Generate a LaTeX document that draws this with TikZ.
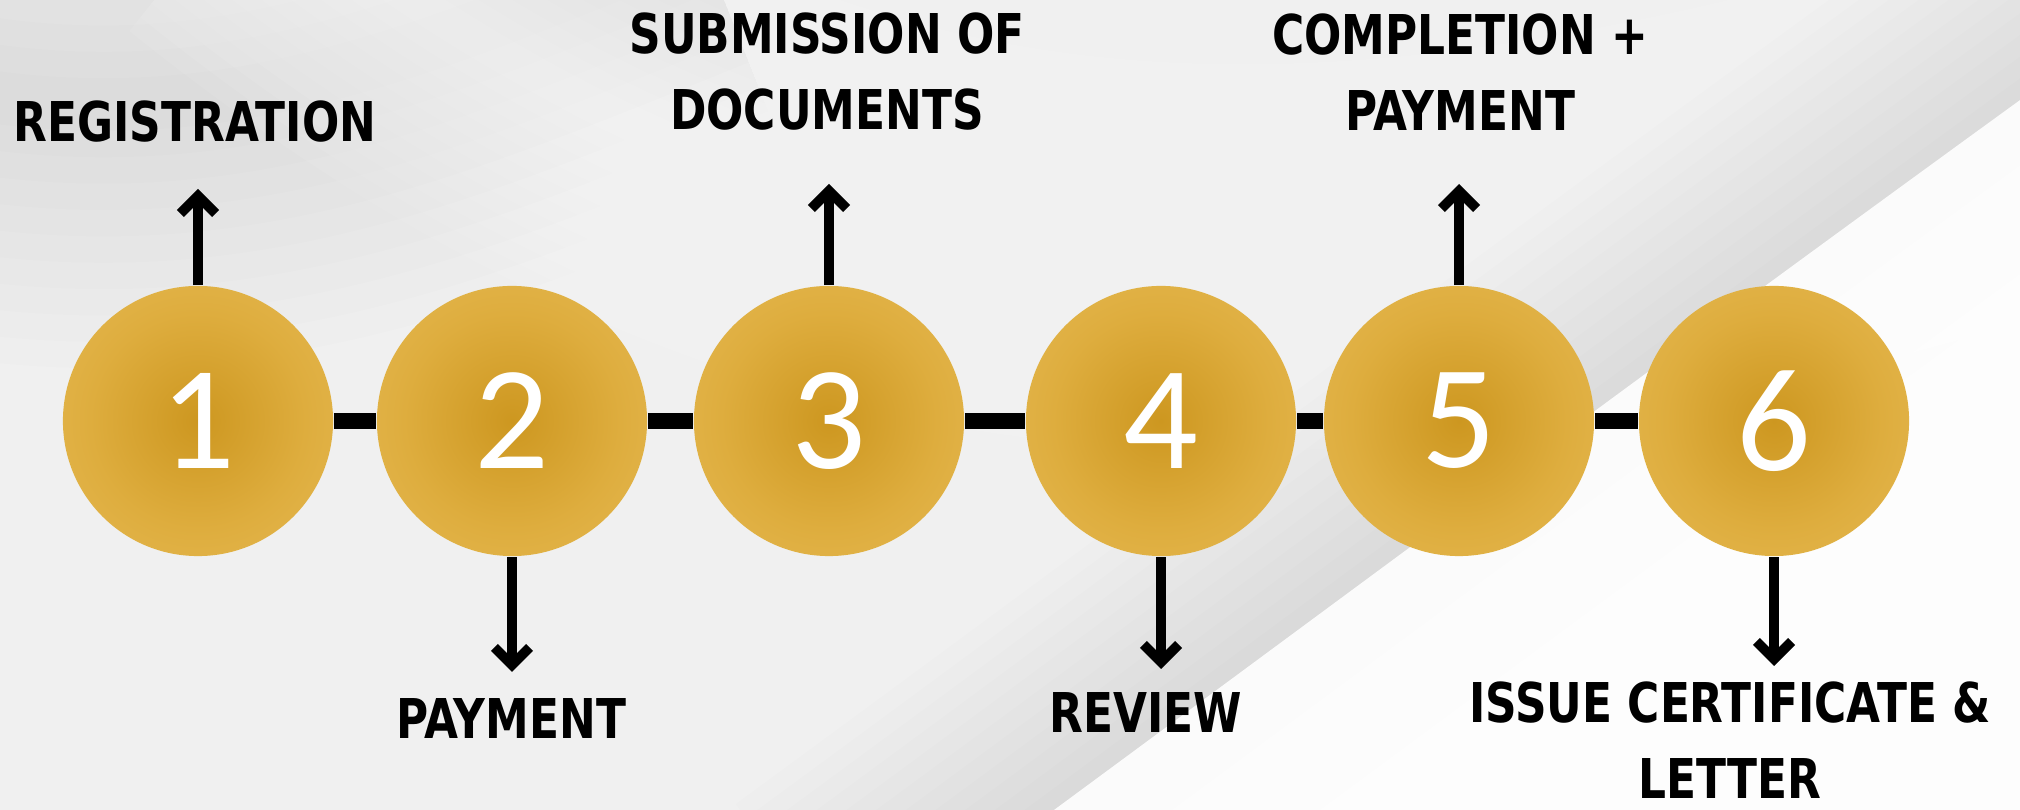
\documentclass[tikz,border=0pt]{standalone}
\usepackage{fontspec}
\setmainfont{DejaVu Sans}
\newfontfamily\stepfont{DejaVu Sans}[FakeStretch=0.8]
\newfontfamily\numfont{Carlito}
\usepackage{tikz}
\usetikzlibrary{arrows.meta,positioning,calc}
\definecolor{silk}{RGB}{240,240,240}
\definecolor{goldcore}{RGB}{205,151,32}
\definecolor{goldmid}{RGB}{222,173,62}
\definecolor{goldedge}{RGB}{233,191,92}
\definecolor{goldrim}{RGB}{237,204,132}
\definecolor{goldout}{RGB}{240,214,155}
\pgfdeclareradialshading{goldball}{\pgfpoint{0bp}{0bp}}{color(0bp)=(goldcore); color(20bp)=(goldmid); color(44bp)=(goldedge); color(45bp)=(goldrim); color(48.5bp)=(goldrim); color(50bp)=(goldout); color(72bp)=(goldout)}

\begin{document}
\begin{tikzpicture}[x=0.01cm,y=-0.01cm,
	stepball/.style={circle,minimum size=2.7cm,inner sep=0pt,shading=goldball,text=white,font=\numfont\fontsize{42}{42}\selectfont},
	steplabel/.style={align=center,font=\stepfont\bfseries\fontsize{15.6}{21.6}\selectfont},
	link/.style={line width=4.5pt},
	pointer/.style={line width=2.8pt,-{Straight Barb[length=5pt,width=10pt]}}]
	\useasboundingbox (0,0) rectangle (2020,810);
	% silk background
	\fill[silk] (0,0) rectangle (2020,810);
	\foreach \w in {15,30,...,150}
		\draw[black,opacity=0.006,line width=\w pt] (-100,80) .. controls (200,150) and (400,60) .. (700,-60);
	\foreach \w in {10,20,...,110}
		\draw[white,opacity=0.07,line width=\w pt] (250,-120) .. controls (800,320) and (1300,360) .. (2150,80);
	\foreach \w in {10,20,...,110}
		\draw[black,opacity=0.007,line width=\w pt] (850,960) .. controls (1300,630) and (1700,330) .. (2200,-30);
	\fill[white,opacity=0.9] (850,960) .. controls (1300,630) and (1700,330) .. (2200,-30) -- (2200,960) -- cycle;
	% steps
	\node[stepball] (s1) at (198,421) {1};
	\node[stepball] (s2) at (512,421) {2};
	\node[stepball] (s3) at (829,421) {3};
	\node[stepball] (s4) at (1161,421) {4};
	\node[stepball] (s5) at (1459,421) {5};
	\node[stepball] (s6) at (1774,421) {6};
	\draw[link] (s1) -- (s2);
	\draw[link] (s2) -- (s3);
	\draw[link] (s3) -- (s4);
	\draw[link] (s4) -- (s5);
	\draw[link] (s5) -- (s6);
	% pointers
	\coordinate (t1) at (198,189);
	\coordinate (t2) at (512,672);
	\coordinate (t3) at (829,184);
	\coordinate (t4) at (1161,669);
	\coordinate (t5) at (1459,184);
	\coordinate (t6) at (1774,666);
	\foreach \i in {1,...,6}
		\draw[pointer] (s\i) -- (t\i);
	% labels
	\node[steplabel] (l1) at (195,122) {REGISTRATION};
	\node[steplabel] (l2) at (511,719) {PAYMENT};
	\node[steplabel] (l3) at (827,72) {SUBMISSION OF\\DOCUMENTS};
	\node[steplabel] (l4) at (1146,713) {REVIEW};
	\node[steplabel] (l5) at (1460,72) {COMPLETION +\\PAYMENT};
	\node[steplabel] (l6) at (1730,740) {ISSUE CERTIFICATE \&\\LETTER};
\end{tikzpicture}
\end{document}
